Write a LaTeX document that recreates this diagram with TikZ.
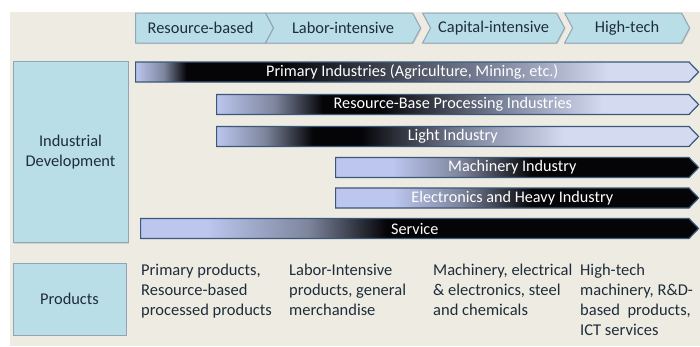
\documentclass[tikz,border=0pt]{standalone}
\usepackage{fontspec}
\setmainfont{Carlito}
\usetikzlibrary{shapes.symbols, shadows}

\definecolor{panelbg}{HTML}{EEEBE3}
\definecolor{stagefill}{HTML}{B9DEE8}
\definecolor{stageline}{HTML}{93A5B5}
\definecolor{labeltext}{HTML}{1E2D3A}
\definecolor{barline}{HTML}{3A5878}
\definecolor{barlight}{HTML}{BCC6EE}
\definecolor{barpale}{HTML}{D4DAF0}
\definecolor{barmid}{HTML}{7E869E}
\definecolor{bardark}{HTML}{050508}

% Shadings (path box maps to 25bp--75bp)
\pgfdeclarehorizontalshading{primaryshade}{100bp}{color(0bp)=(barlight); color(25bp)=(barlight); color(27.5bp)=(barmid); color(29.5bp)=(bardark); color(38bp)=(bardark); color(57bp)=(barmid); color(67bp)=(barpale); color(75bp)=(barpale); color(100bp)=(barpale)}
\pgfdeclarehorizontalshading{processshade}{100bp}{color(0bp)=(barlight); color(25bp)=(barlight); color(31bp)=(barmid); color(36bp)=(bardark); color(42bp)=(bardark); color(55bp)=(barmid); color(65bp)=(barpale); color(75bp)=(barpale); color(100bp)=(barpale)}
\pgfdeclarehorizontalshading{lightshade}{100bp}{color(0bp)=(barlight); color(25bp)=(barlight); color(30bp)=(barmid); color(35bp)=(bardark); color(40bp)=(bardark); color(51bp)=(barmid); color(61bp)=(barpale); color(75bp)=(barpale); color(100bp)=(barpale)}
\pgfdeclarehorizontalshading{heavyshade}{100bp}{color(0bp)=(barlight); color(25bp)=(barlight); color(33bp)=(barlight); color(42bp)=(barmid); color(52bp)=(bardark); color(75bp)=(bardark); color(100bp)=(bardark)}
\pgfdeclarehorizontalshading{serviceshade}{100bp}{color(0bp)=(barlight); color(25bp)=(barlight); color(31bp)=(barlight); color(40bp)=(barmid); color(47bp)=(bardark); color(75bp)=(bardark); color(100bp)=(bardark)}

\begin{document}
\begin{tikzpicture}[
    x=1pt, y=-1pt,
    font=\fontsize{16.4}{20}\selectfont,
    % boxes on the left
    headbox/.style={rectangle, draw=stageline, fill=stagefill, line width=1pt, text=labeltext, align=center, inner sep=0pt, drop shadow={opacity=0.25, shadow xshift=1pt, shadow yshift=-1pt}},
    % stages along the top
    stage/.style={signal, signal to=east, signal pointer angle=124, draw=stageline, fill=stagefill, line width=1pt, text=labeltext, minimum height=30pt, inner sep=0pt, anchor=west, drop shadow={opacity=0.25, shadow xshift=1pt, shadow yshift=-1pt}},
    % industry bars
    bar/.style={signal, signal to=east, signal pointer angle=92, draw=barline, line width=1.2pt, text=white, minimum height=20pt, inner sep=0pt, anchor=west, font=\fontsize{16.2}{18}\selectfont},
    product/.style={anchor=north west, align=left, text=labeltext, inner sep=0pt, font=\fontsize{16.5}{20}\selectfont}
]
\useasboundingbox (0,0) rectangle (700,346);
\fill[white] (0,0) rectangle (700,346);
\fill[panelbg] (10,12) rectangle (700,346);

% Stages
\node[stage, minimum width=138pt] (resource) at (135,28) {Resource-based};
\node[stage, signal from=west, minimum width=155pt] (labor) at (273,28) {Labor-intensive};
\node[stage, signal from=west, minimum width=142pt] (capital) at (430,28) {Capital-intensive};
\node[stage, signal from=west, minimum width=125pt] (hightech) at (572,28) {High-tech};

% Row headings
\node[headbox, minimum width=115pt, minimum height=181pt] (industrial) at (70.5,152) {Industrial\\Development};
\node[headbox, minimum width=113pt, minimum height=72pt] (products) at (69.5,299) {Products};

% Industries
\node[bar, shading=primaryshade, minimum width=563pt] (primary) at (135,72) {Primary Industries (Agriculture, Mining, etc.)};
\node[bar, shading=processshade, minimum width=482pt] (processing) at (216,104.5) {Resource-Base Processing Industries};
\node[bar, shading=lightshade, minimum width=482pt] (lightind) at (216,136.5) {Light Industry};
\node[bar, shading=heavyshade, minimum width=363pt] (machinery) at (335,167.5) {Machinery Industry};
\node[bar, shading=heavyshade, minimum width=363pt] (electronics) at (335,198) {Electronics and Heavy Industry};
\node[bar, shading=serviceshade, minimum width=558pt] (service) at (140,228.5) {Service};

% Products
\node[product] (prodres) at (141,264) {Primary products,\\Resource-based\\processed products};
\node[product] (prodlab) at (289,264) {Labor-Intensive\\products, general\\merchandise};
\node[product] (prodcap) at (433,264) {Machinery, electrical\\\& electronics, steel\\and chemicals};
\node[product] (prodhigh) at (580,264) {High-tech\\machinery, R\&D-\\based\ \ products,\\ICT services};

\end{tikzpicture}
\end{document}
